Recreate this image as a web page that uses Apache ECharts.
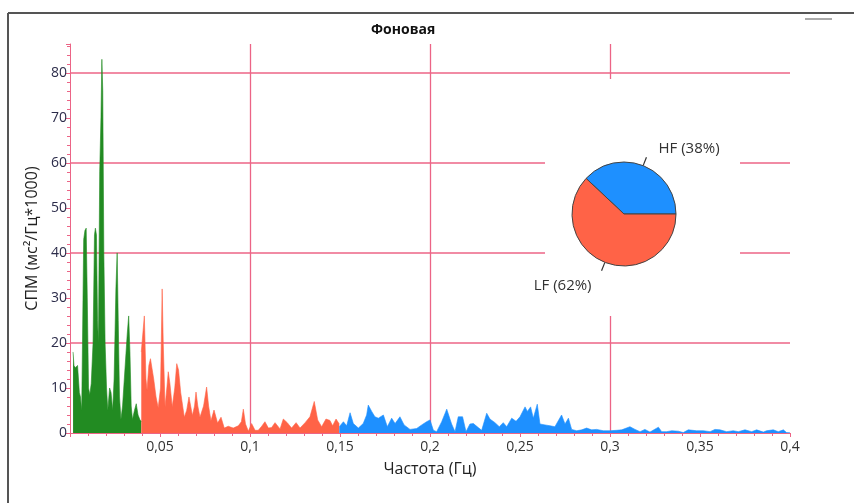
<!DOCTYPE html>
<html>
<head>
<meta charset="utf-8">
<script src="https://cdn.jsdelivr.net/npm/echarts@6/dist/echarts.min.js"></script>
<style>
  html, body { margin: 0; padding: 0; background: #fff; }
  #chart { width: 854px; height: 503px; }
</style>
</head>
<body>
<div id="chart"></div>
<script>
// Power spectral density (ms^2/Hz * 1000) over frequency bands
const vlfFreq = [0.0017, 0.0022, 0.003, 0.0042, 0.0052, 0.0058, 0.0065, 0.0076, 0.0083, 0.009, 0.0096, 0.0103, 0.011, 0.0118, 0.0128, 0.0136, 0.0141, 0.0147, 0.0153, 0.0158, 0.0165, 0.0172, 0.0177, 0.0182, 0.0188, 0.0195, 0.0203, 0.021, 0.022, 0.0228, 0.0237, 0.0245, 0.0255, 0.0262, 0.0268, 0.0275, 0.0283, 0.0292, 0.0305, 0.0318, 0.0326, 0.0333, 0.034, 0.0347, 0.0358, 0.0368, 0.0378, 0.0388, 0.0396];
const vlfPower = [18, 15, 14.5, 15, 9, 8, 5, 43, 45, 45.5, 30, 10, 8.5, 11, 20, 44, 45.5, 44, 25, 20, 58, 70, 83, 76, 40, 20, 10, 5, 10, 9, 5, 12, 32, 40, 25, 8, 3, 6, 14, 22, 26, 18, 6, 3, 5, 6.5, 4, 3, 2.5];

const lfFreq = [0.0396, 0.0413, 0.0422, 0.0428, 0.0438, 0.0447, 0.0456, 0.0465, 0.0478, 0.049, 0.0503, 0.0512, 0.0518, 0.0528, 0.0538, 0.0546, 0.0555, 0.0568, 0.0582, 0.0593, 0.0603, 0.0615, 0.0635, 0.0648, 0.0661, 0.068, 0.0692, 0.07, 0.071, 0.0722, 0.0742, 0.0759, 0.077, 0.0783, 0.08, 0.082, 0.0839, 0.0857, 0.0879, 0.0907, 0.0935, 0.0952, 0.0963, 0.0975, 0.0991, 0.1009, 0.1028, 0.1046, 0.1065, 0.1083, 0.1102, 0.112, 0.1139, 0.1167, 0.1185, 0.1207, 0.1231, 0.1256, 0.1278, 0.1306, 0.1333, 0.1357, 0.1376, 0.1398, 0.1422, 0.1444, 0.1459, 0.1478, 0.1496];
const lfPower = [18, 26, 12, 9.5, 15, 16.5, 16.8, 12, 8, 5.6, 10, 32, 20, 5.8, 10, 13.6, 11, 5.8, 10, 15.4, 14, 9, 3.5, 5, 8, 3.9, 6, 9.1, 6, 3.5, 6, 10.2, 6, 2.7, 5.1, 2.2, 3.5, 1.1, 1.5, 1.1, 1.6, 2.5, 5.3, 2, 0.4, 2.1, 0.6, 0.6, 1.5, 2.5, 1.1, 1.2, 2.3, 0.9, 3.1, 2.3, 1.1, 2.3, 1.1, 2.3, 3.6, 7, 2.9, 1.4, 3.1, 2.8, 1.6, 3.1, 2];

const hfFreq = [0.1496, 0.1519, 0.1537, 0.1556, 0.1574, 0.1602, 0.1629, 0.1648, 0.1657, 0.1676, 0.1694, 0.1713, 0.1741, 0.1763, 0.1787, 0.1806, 0.1833, 0.1856, 0.1889, 0.1926, 0.1954, 0.1981, 0.2, 0.2019, 0.2037, 0.2065, 0.2093, 0.212, 0.2139, 0.2157, 0.2181, 0.22, 0.2222, 0.2241, 0.2268, 0.2287, 0.2315, 0.2333, 0.2361, 0.2385, 0.2407, 0.2426, 0.2454, 0.2478, 0.25, 0.2528, 0.2541, 0.2559, 0.2574, 0.2596, 0.2611, 0.2639, 0.2667, 0.2694, 0.2731, 0.275, 0.2769, 0.2787, 0.2815, 0.2843, 0.287, 0.2898, 0.2926, 0.2963, 0.3, 0.3037, 0.3065, 0.3111, 0.3139, 0.3167, 0.3194, 0.3222, 0.3269, 0.3287, 0.3315, 0.3343, 0.338, 0.3407, 0.3435, 0.3481, 0.3519, 0.3556, 0.3583, 0.3611, 0.3648, 0.3685, 0.3713, 0.375, 0.3787, 0.3815, 0.3852, 0.387, 0.3907, 0.3935, 0.3963, 0.3981, 0.4];
const hfPower = [1.4, 2.5, 1.6, 4.5, 2.1, 1.1, 2.1, 4, 6.2, 4.8, 3.6, 3.3, 4, 1.4, 3.3, 2.1, 3.6, 1.8, 0.8, 1, 1.8, 2.5, 2.9, 0.6, 0.3, 2.5, 5.3, 2, 0.3, 3.6, 3.6, 0.3, 2, 2.1, 1.2, 0.6, 4.4, 3.1, 2.3, 1.4, 2.3, 1.4, 3.3, 2.6, 3.6, 5.8, 4.8, 5.8, 3.3, 6.4, 2, 1.8, 1.6, 1.4, 4, 2, 3.3, 0.8, 0.5, 0.7, 1.1, 0.7, 0.8, 0.5, 0.5, 0.6, 0.7, 1.4, 0.8, 0.3, 0.8, 0.2, 1.3, 0.3, 0.3, 0.5, 0.4, 0.1, 0.7, 0.5, 0.5, 0.3, 0.8, 0.7, 0.3, 0.5, 0.3, 0.7, 0.3, 0.7, 0.2, 0.5, 0.7, 0.3, 0.7, 0.1, 0.1];

// Band share of total power
const bandNames = ['HF', 'LF'];
const bandShare = [38, 62];

const xTickLabels = { '0.05': '0,05', '0.1': '0,1', '0.15': '0,15', '0.2': '0,2', '0.25': '0,25', '0.3': '0,3', '0.35': '0,35', '0.4': '0,4' };

const PINK = '#ec6486';
const FONT = '"Open Sans", "Noto Sans", sans-serif';

function pairs(xs, ys) { return xs.map((x, i) => [x, ys[i]]); }

function areaSeries(name, xs, ys, color) {
  return {
    name: name,
    type: 'line',
    xAxisIndex: 0,
    yAxisIndex: 0,
    data: pairs(xs, ys),
    symbol: 'none',
    smooth: false,
    lineStyle: { width: 0.6, color: color },
    areaStyle: { color: color, opacity: 1, origin: 'start' },
    z: 3,
    silent: true
  };
}

// HF label sits above-right of its leader, LF label below-left
const pieLabelStyles = [
  { formatter: '{b} ({c}%)\n{gap|}', distanceToLabelLine: 12, rich: { gap: { height: 18 } } },
  { formatter: '{gap|}\n{b} ({c}%)', distanceToLabelLine: 10, rich: { gap: { height: 30 } } }
];
const pieColors = ['#1e90ff', '#ff6347'];

const chart = echarts.init(document.getElementById('chart'), null, { renderer: 'canvas' });

chart.setOption({
  animation: false,
  backgroundColor: '#fff',
  title: {
    text: 'Фоновая',
    left: 366,
    top: 18,
    textStyle: { fontFamily: FONT, fontSize: 14, fontWeight: 'bold', color: '#111' }
  },
  grid: { left: 70, right: 64, top: 44, bottom: 70, containLabel: false },
  xAxis: [
    {
      type: 'value', min: 0, max: 0.4, interval: 0.05,
      name: 'Частота (Гц)', nameLocation: 'middle', nameGap: 28,
      nameTextStyle: { fontFamily: FONT, fontSize: 16, color: '#222' },
      axisLine: { show: true, lineStyle: { color: PINK, width: 1 } },
      axisTick: { show: true, length: 4, lineStyle: { color: PINK } },
      minorTick: { show: true, splitNumber: 5, length: 3, lineStyle: { color: PINK } },
      splitLine: { show: false },
      axisLabel: {
        showMinLabel: false, margin: 7,
        fontFamily: FONT, fontSize: 14, color: '#333',
        formatter: v => xTickLabels[String(+v.toFixed(2))] || ''
      }
    },
    {
      type: 'value', min: 0, max: 0.4, interval: 0.1, position: 'bottom',
      axisLine: { show: false }, axisTick: { show: false }, axisLabel: { show: false },
      splitLine: { show: true, showMinLine: false, showMaxLine: false, lineStyle: { color: PINK, width: 1.3 } }
    }
  ],
  yAxis: [
    {
      type: 'value', min: 0, max: 86.4, interval: 10,
      name: 'СПМ (мс²/Гц*1000)', nameLocation: 'middle', nameGap: 27,
      nameTextStyle: { fontFamily: FONT, fontSize: 16, color: '#222' },
      axisLine: { show: true, lineStyle: { color: PINK, width: 1 } },
      axisTick: { show: true, length: 4, lineStyle: { color: PINK } },
      minorTick: { show: true, splitNumber: 5, length: 3, lineStyle: { color: PINK } },
      splitLine: { show: false },
      axisLabel: { showMaxLabel: false, margin: 3, fontFamily: FONT, fontSize: 14, color: '#2c2c4a' }
    },
    {
      type: 'value', min: 0, max: 86.4, interval: 20, position: 'left',
      axisLine: { show: false }, axisTick: { show: false }, axisLabel: { show: false },
      splitLine: { show: true, showMinLine: false, showMaxLine: false, lineStyle: { color: PINK, width: 1.6 } }
    }
  ],
  graphic: [
    // panel behind the band-share pie
    { type: 'rect', z: 1, silent: true, shape: { x: 545, y: 79, width: 195, height: 237 }, style: { fill: '#fff' } },
    // window frame
    { type: 'line', z: 10, silent: true, shape: { x1: 8, y1: 13, x2: 854, y2: 13 }, style: { stroke: '#555', lineWidth: 2 } },
    { type: 'line', z: 10, silent: true, shape: { x1: 8, y1: 13, x2: 8, y2: 503 }, style: { stroke: '#555', lineWidth: 2 } },
    { type: 'line', z: 10, silent: true, shape: { x1: 805, y1: 19, x2: 832, y2: 19 }, style: { stroke: '#aaa', lineWidth: 2 } }
  ],
  series: [
    areaSeries('VLF', vlfFreq, vlfPower, '#228b22'),
    areaSeries('LF', lfFreq, lfPower, '#ff6347'),
    areaSeries('HF', hfFreq, hfPower, '#1e90ff'),
    {
      name: 'Bands',
      type: 'pie',
      center: [624, 214],
      radius: 52,
      startAngle: 0,
      clockwise: false,
      z: 4,
      silent: true,
      itemStyle: { borderColor: '#444', borderWidth: 1 },
      label: { show: true, position: 'outside', fontFamily: FONT, fontSize: 15, color: '#333' },
      labelLine: { show: true, length: 9, length2: 0, lineStyle: { color: '#333', width: 1.2 } },
      data: bandNames.map((n, i) => ({
        name: n,
        value: bandShare[i],
        itemStyle: { color: pieColors[i] },
        label: pieLabelStyles[i]
      }))
    }
  ]
});
</script>
</body>
</html>
